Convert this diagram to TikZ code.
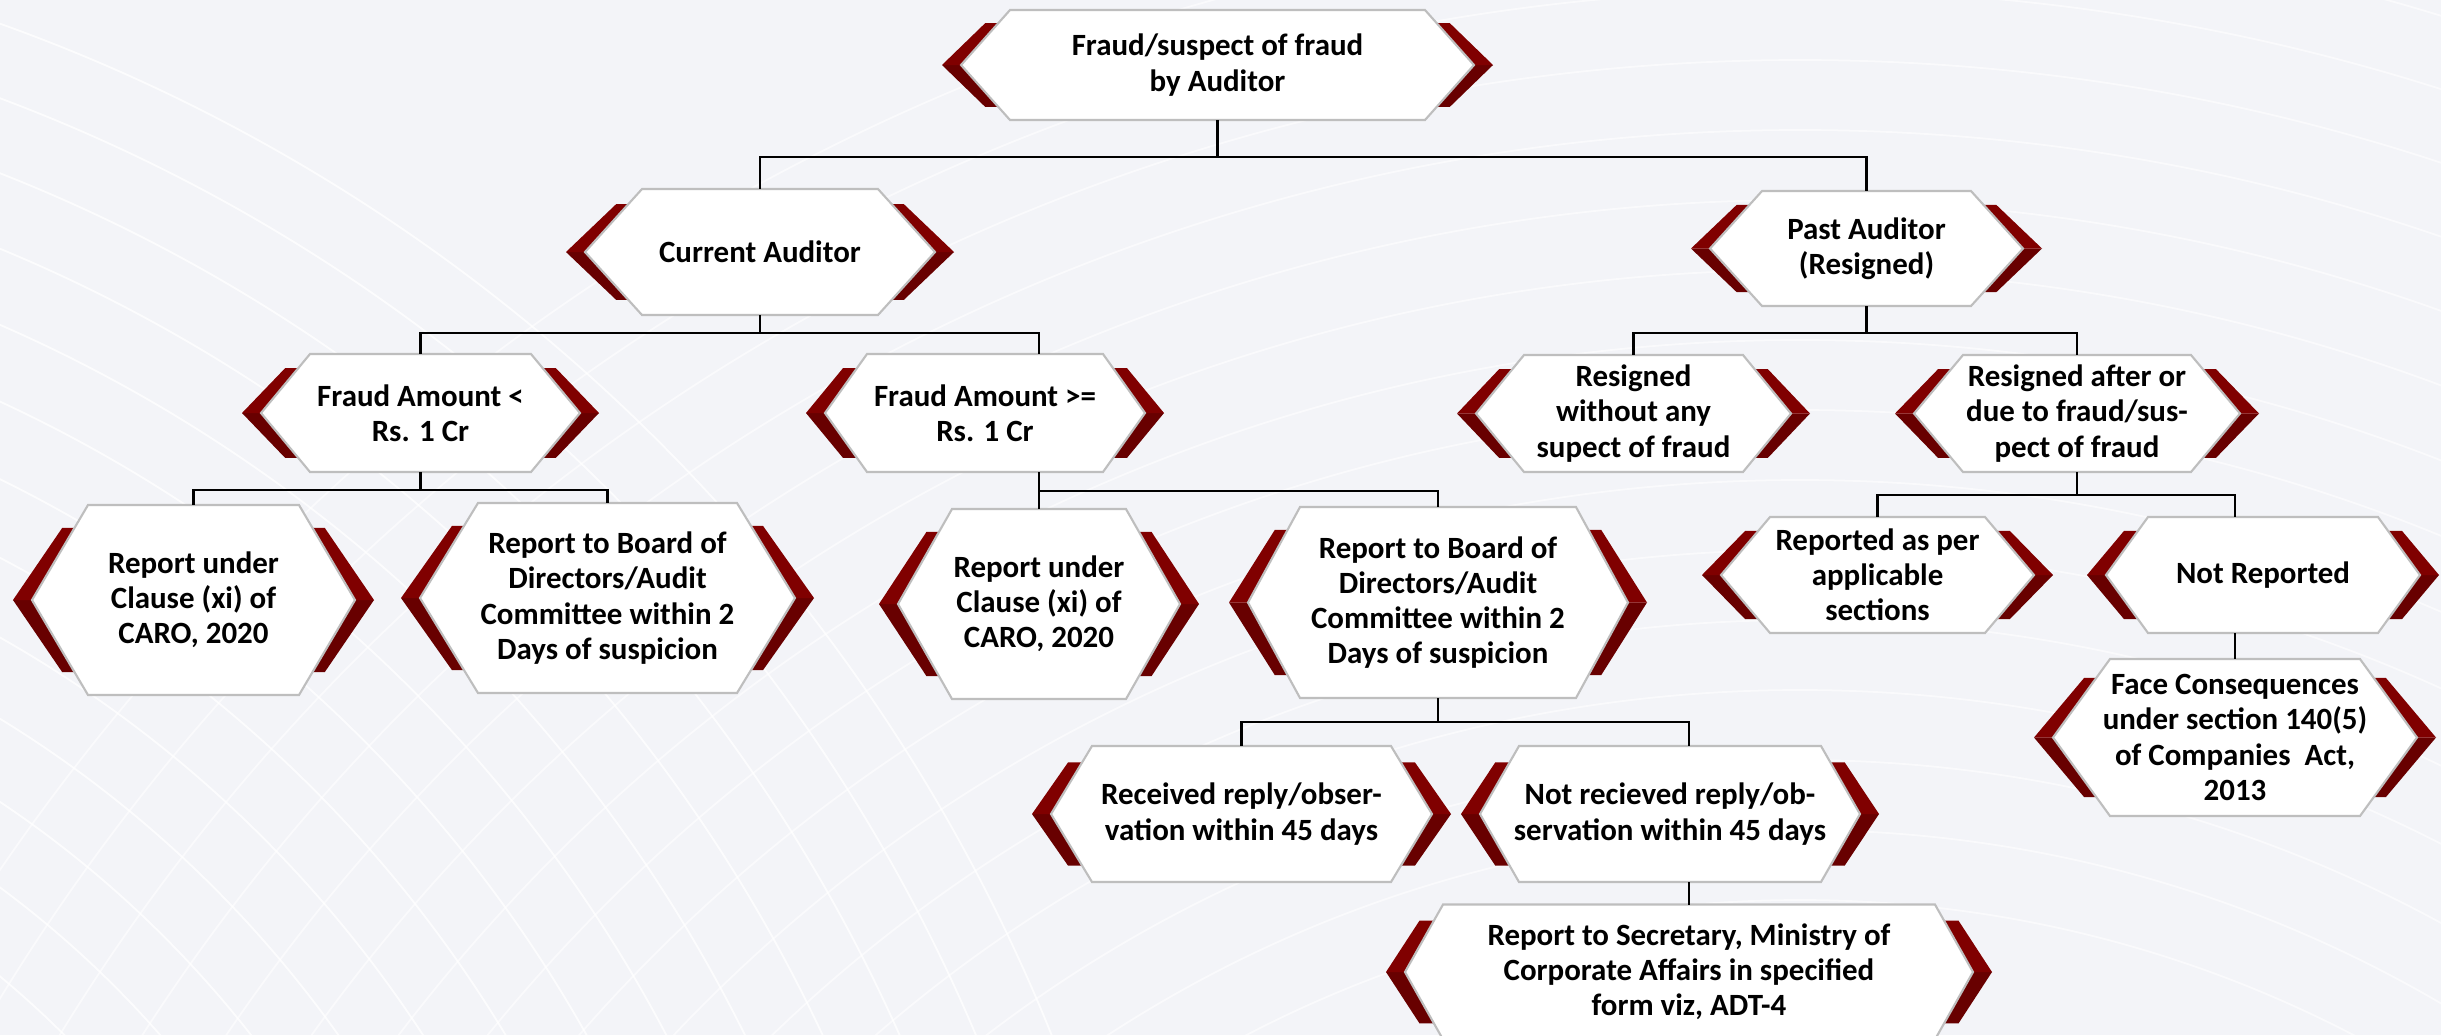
\documentclass[tikz,border=0pt]{standalone}
\usepackage{fontspec}
\setmainfont{Carlito}
\usetikzlibrary{calc}

\definecolor{bgpaper}{RGB}{243,244,248}
\definecolor{chevtop}{RGB}{128,0,0}
\definecolor{chevlow}{RGB}{104,0,0}
\definecolor{hexline}{RGB}{190,190,190}

\pgfdeclarelayer{paper}
\pgfdeclarelayer{shapes}
\pgfsetlayers{paper,shapes,main}

\begin{document}
\begin{tikzpicture}[
font=\fontsize{8.8pt}{10pt}\selectfont\bfseries,
hexbox/.style={align=center, inner sep=0pt, outer sep=0pt},
link/.style={draw=black, line width=0.7pt}
]

\useasboundingbox (0,0) rectangle (24.41,-10.35);

%%%%%%%%%%%%%%%%%%%%%%%%%%%%%%%%%%%%%%%%%%%%%%%%%%%%%%
% CANVAS
%%%%%%%%%%%%%%%%%%%%%%%%%%%%%%%%%%%%%%%%%%%%%%%%%%%%%%

\node[
minimum width=24.41cm,
minimum height=10.35cm,
inner sep=0pt,
outer sep=0pt,
anchor=north west
] (canvas) at (0,0)
{};

%%%%%%%%%%%%%%%%%%%%%%%%%%%%%%%%%%%%%%%%%%%%%%%%%%%%%%
% TOP
%%%%%%%%%%%%%%%%%%%%%%%%%%%%%%%%%%%%%%%%%%%%%%%%%%%%%%

\node[hexbox, minimum width=5.13cm, minimum height=1.10cm]
(root)
at ([xshift=12.175cm,yshift=-0.65cm]canvas.north west)
{Fraud/suspect of fraud\\by Auditor};

%%%%%%%%%%%%%%%%%%%%%%%%%%%%%%%%%%%%%%%%%%%%%%%%%%%%%%
% AUDITORS
%%%%%%%%%%%%%%%%%%%%%%%%%%%%%%%%%%%%%%%%%%%%%%%%%%%%%%

\node[hexbox, minimum width=3.50cm, minimum height=1.26cm]
(cur)
at ([xshift=7.60cm,yshift=-2.52cm]canvas.north west)
{Current Auditor};

\node[hexbox, minimum width=3.13cm, minimum height=1.15cm]
(past)
at ([xshift=18.665cm,yshift=-2.485cm]canvas.north west)
{Past Auditor\\(Resigned)};

%%%%%%%%%%%%%%%%%%%%%%%%%%%%%%%%%%%%%%%%%%%%%%%%%%%%%%
% SECOND LEVEL
%%%%%%%%%%%%%%%%%%%%%%%%%%%%%%%%%%%%%%%%%%%%%%%%%%%%%%

\node[hexbox, minimum width=3.19cm, minimum height=1.18cm]
(famt1)
at ([xshift=4.205cm,yshift=-4.13cm]canvas.north west)
{Fraud Amount <\\Rs. 1 Cr};

\node[hexbox, minimum width=3.20cm, minimum height=1.18cm]
(famt2)
at ([xshift=9.85cm,yshift=-4.13cm]canvas.north west)
{Fraud Amount >=\\Rs. 1 Cr};

\node[hexbox, minimum width=3.15cm, minimum height=1.17cm]
(resno)
at ([xshift=16.335cm,yshift=-4.135cm]canvas.north west)
{Resigned\\without any\\supect of fraud};

\node[hexbox, minimum width=3.26cm, minimum height=1.17cm]
(resfr)
at ([xshift=20.77cm,yshift=-4.135cm]canvas.north west)
{Resigned after or\\due to fraud/sus-\\pect of fraud};

%%%%%%%%%%%%%%%%%%%%%%%%%%%%%%%%%%%%%%%%%%%%%%%%%%%%%%
% REPORTING
%%%%%%%%%%%%%%%%%%%%%%%%%%%%%%%%%%%%%%%%%%%%%%%%%%%%%%

\node[hexbox, minimum width=3.23cm, minimum height=1.90cm]
(caro1)
at ([xshift=1.935cm,yshift=-6.00cm]canvas.north west)
{Report under\\Clause (xi) of\\CARO, 2020};

\node[hexbox, minimum width=3.75cm, minimum height=1.90cm]
(board1)
at ([xshift=6.075cm,yshift=-5.98cm]canvas.north west)
{Report to Board of\\Directors/Audit\\Committee within 2\\Days of suspicion};

\node[hexbox, minimum width=2.82cm, minimum height=1.90cm]
(caro2)
at ([xshift=10.39cm,yshift=-6.04cm]canvas.north west)
{Report under\\Clause (xi) of\\CARO, 2020};

\node[hexbox, minimum width=3.80cm, minimum height=1.91cm]
(board2)
at ([xshift=14.38cm,yshift=-6.025cm]canvas.north west)
{Report to Board of\\Directors/Audit\\Committee within 2\\Days of suspicion};

\node[hexbox, minimum width=3.13cm, minimum height=1.16cm]
(repyes)
at ([xshift=18.775cm,yshift=-5.75cm]canvas.north west)
{Reported as per\\applicable\\sections};

\node[hexbox, minimum width=3.14cm, minimum height=1.16cm]
(repno)
at ([xshift=22.63cm,yshift=-5.75cm]canvas.north west)
{Not Reported};

%%%%%%%%%%%%%%%%%%%%%%%%%%%%%%%%%%%%%%%%%%%%%%%%%%%%%%
% REPLY / CONSEQUENCES
%%%%%%%%%%%%%%%%%%%%%%%%%%%%%%%%%%%%%%%%%%%%%%%%%%%%%%

\node[hexbox, minimum width=3.81cm, minimum height=1.36cm]
(recv)
at ([xshift=12.415cm,yshift=-8.14cm]canvas.north west)
{Received reply/obser-\\vation within 45 days};

\node[hexbox, minimum width=3.80cm, minimum height=1.36cm]
(notrecv)
at ([xshift=16.70cm,yshift=-8.14cm]canvas.north west)
{Not recieved reply/ob-\\servation within 45 days};

\node[hexbox, minimum width=5.68cm, minimum height=1.35cm]
(mca)
at ([xshift=16.89cm,yshift=-9.72cm]canvas.north west)
{Report to Secretary, Ministry of\\Corporate Affairs in specified\\form viz, ADT-4};

\node[hexbox, minimum width=3.64cm, minimum height=1.57cm]
(conseq)
at ([xshift=22.35cm,yshift=-7.375cm]canvas.north west)
{Face Consequences\\under section 140(5)\\of Companies~ Act,\\2013};

%%%%%%%%%%%%%%%%%%%%%%%%%%%%%%%%%%%%%%%%%%%%%%%%%%%%%%
% CONNECTORS
%%%%%%%%%%%%%%%%%%%%%%%%%%%%%%%%%%%%%%%%%%%%%%%%%%%%%%

\coordinate (rootjoin) at ([yshift=-0.37cm]root.south);
\draw[link] (root.south) -- (rootjoin);
\draw[link] (rootjoin) -| (cur.north);
\draw[link] (rootjoin) -| (past.north);

\coordinate (curjoin) at ([yshift=-0.18cm]cur.south);
\draw[link] (cur.south) -- (curjoin);
\draw[link] (curjoin) -| (famt1.north);
\draw[link] (curjoin) -| (famt2.north -| caro2.north);

\coordinate (pastjoin) at ([yshift=-0.27cm]past.south);
\draw[link] (past.south) -- (pastjoin);
\draw[link] (pastjoin) -| (resno.north);
\draw[link] (pastjoin) -| (resfr.north);

\coordinate (famt1join) at ([yshift=-0.18cm]famt1.south);
\draw[link] (famt1.south) -- (famt1join);
\draw[link] (famt1join) -| (caro1.north);
\draw[link] (famt1join) -| (board1.north);

\coordinate (famt2join) at ([yshift=-0.19cm]famt2.south -| caro2.north);
\draw[link] (famt2.south -| caro2.north) -- (caro2.north);
\draw[link] (famt2join) -| (board2.north);

\coordinate (resfrjoin) at ([yshift=-0.23cm]resfr.south);
\draw[link] (resfr.south) -- (resfrjoin);
\draw[link] (resfrjoin) -| (repyes.north);
\draw[link] (resfrjoin) -| (repno.north -| conseq.north);
\draw[link] (repno.south -| conseq.north) -- (conseq.north);

\coordinate (board2join) at ([yshift=-0.24cm]board2.south);
\draw[link] (board2.south) -- (board2join);
\draw[link] (board2join) -| (recv.north);
\draw[link] (board2join) -| (notrecv.north -| mca.north);
\draw[link] (notrecv.south -| mca.north) -- (mca.north);

%%%%%%%%%%%%%%%%%%%%%%%%%%%%%%%%%%%%%%%%%%%%%%%%%%%%%%
% HEXAGONS AND CHEVRONS
%%%%%%%%%%%%%%%%%%%%%%%%%%%%%%%%%%%%%%%%%%%%%%%%%%%%%%

\begin{pgfonlayer}{shapes}
\foreach \nd/\s in {root/0.49cm, cur/0.57cm, past/0.52cm, famt1/0.49cm,
  famt2/0.42cm, resno/0.48cm, resfr/0.49cm, caro1/0.56cm, board1/0.58cm,
  caro2/0.54cm, board2/0.52cm, repyes/0.49cm, repno/0.42cm, recv/0.41cm,
  notrecv/0.39cm, mca/0.38cm, conseq/0.57cm}{
  % lower half of the chevrons
  \fill[chevlow] let \p1=(\nd.north west), \p2=(\nd.south east), \p3=(\nd.west) in
    ({\x1-0.19cm},\y3) -- ({\x2+0.19cm},\y3)
    -- ({\x2+0.19cm-0.88*\s},{\y2+0.12*((\y1)-(\y2))})
    -- ({\x1-0.19cm+0.88*\s},{\y2+0.12*((\y1)-(\y2))}) -- cycle;
  % upper half
  \fill[chevtop] let \p1=(\nd.north west), \p2=(\nd.south east), \p3=(\nd.west) in
    ({\x1-0.19cm},\y3)
    -- ({\x1-0.19cm+0.88*\s},{\y1-0.12*((\y1)-(\y2))})
    -- ({\x2+0.19cm-0.88*\s},{\y1-0.12*((\y1)-(\y2))})
    -- ({\x2+0.19cm},\y3) -- cycle;
  % white hexagon
  \filldraw[fill=white, draw=hexline, line width=0.6pt]
    let \p1=(\nd.north west), \p2=(\nd.south east), \p3=(\nd.west) in
    (\x1,\y3) -- ({\x1+\s},\y1) -- ({\x2-\s},\y1)
    -- (\x2,\y3) -- ({\x2-\s},\y2) -- ({\x1+\s},\y2) -- cycle;
}
\end{pgfonlayer}

%%%%%%%%%%%%%%%%%%%%%%%%%%%%%%%%%%%%%%%%%%%%%%%%%%%%%%
% BACKGROUND
%%%%%%%%%%%%%%%%%%%%%%%%%%%%%%%%%%%%%%%%%%%%%%%%%%%%%%

\begin{pgfonlayer}{paper}
\fill[bgpaper] (canvas.north west) rectangle (canvas.south east);
\begin{scope}
\clip (canvas.north west) rectangle (canvas.south east);
\foreach \k in {0,...,14}
  \draw[white, line width=0.5pt, opacity=0.6] ([shift={(18,-21)}]canvas.north west) circle [radius={12+0.7*\k}];
\foreach \k in {0,...,14}
  \draw[white, line width=0.5pt, opacity=0.8] ([shift={(-6,-17)}]canvas.north west) circle [radius={8+0.7*\k}];
\end{scope}
\end{pgfonlayer}

\end{tikzpicture}
\end{document}
